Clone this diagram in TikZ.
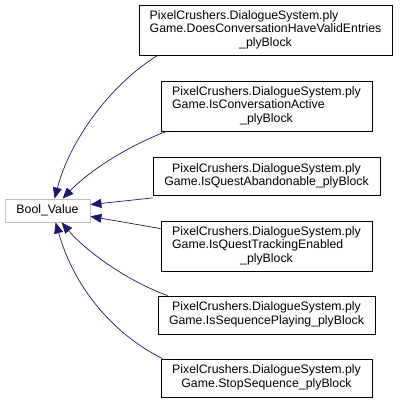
\documentclass[tikz,border=0pt]{standalone}
\usepackage{fontspec}
\setmainfont{Liberation Sans}
\usetikzlibrary{arrows.meta}
\definecolor{edgecol}{HTML}{191970}
\definecolor{graybd}{HTML}{BFBFBF}
\tikzset{
  cls/.style={draw=black, line width=0.8pt, inner sep=0pt, fill=white,
    font=\fontsize{12.3}{13.5}\selectfont},
  base/.style={draw=graybd, line width=0.8pt, inner sep=0pt, fill=white,
    font=\fontsize{12.3}{13.5}\selectfont},
  inh/.style={draw=edgecol, line width=0.7pt,
    -{Triangle[length=11pt,width=9pt,fill=edgecol]}},
}
\newcommand{\threeL}[2]{\begin{tabular}{@{}l@{}}#1\\#2\\\multicolumn{1}{@{}c@{}}{\_plyBlock}\end{tabular}}
\newcommand{\twoL}[2]{\begin{tabular}{@{}c@{}}#1\\#2\end{tabular}}
\begin{document}
\begin{tikzpicture}[x=1pt,y=-1pt]
\useasboundingbox (0,0) rectangle (400,403);
\renewcommand{\arraystretch}{1}
\node[base, minimum width=85pt, minimum height=23pt] (bv) at (47.5,210.5) {Bool\_Value};
\node[cls, minimum width=253pt, minimum height=50pt] (b1) at (265.5,30) {\threeL{PixelCrushers.DialogueSystem.ply}{Game.DoesConversationHaveValidEntries}};
\node[cls, minimum width=211pt, minimum height=50pt] (b2) at (266.5,106) {\threeL{PixelCrushers.DialogueSystem.ply}{Game.IsConversationActive}};
\node[cls, minimum width=227pt, minimum height=38pt] (b3) at (266.5,176.5) {\twoL{PixelCrushers.DialogueSystem.ply}{Game.IsQuestAbandonable\_plyBlock}};
\node[cls, minimum width=211pt, minimum height=50pt] (b4) at (266.5,246) {\threeL{PixelCrushers.DialogueSystem.ply}{Game.IsQuestTrackingEnabled}};
\node[cls, minimum width=217pt, minimum height=38pt] (b5) at (266.5,315) {\twoL{PixelCrushers.DialogueSystem.ply}{Game.IsSequencePlaying\_plyBlock}};
\node[cls, minimum width=211pt, minimum height=38pt] (b6) at (266.5,378) {\twoL{PixelCrushers.DialogueSystem.ply}{Game.StopSequence\_plyBlock}};
\draw[inh] ([xshift=19pt]b1.south west) .. controls (110,85) and (70,140) .. ([xshift=50pt]bv.north west);
\draw[inh] ([xshift=6pt]b2.south west) .. controls (130,145) and (90,170) .. ([xshift=58pt]bv.north west);
\draw[inh] ([yshift=-2pt]b3.south west) -- ([yshift=-6pt]bv.north east);
\draw[inh] ([yshift=-8pt]b4.north west) -- ([yshift=6pt]bv.south east);
\draw[inh] ([xshift=10pt]b5.north west) .. controls (125,280) and (85,250) .. ([xshift=57pt]bv.south west);
\draw[inh] ([xshift=2pt]b6.north west) .. controls (115,335) and (75,290) .. ([xshift=51pt]bv.south west);
\end{tikzpicture}
\end{document}
